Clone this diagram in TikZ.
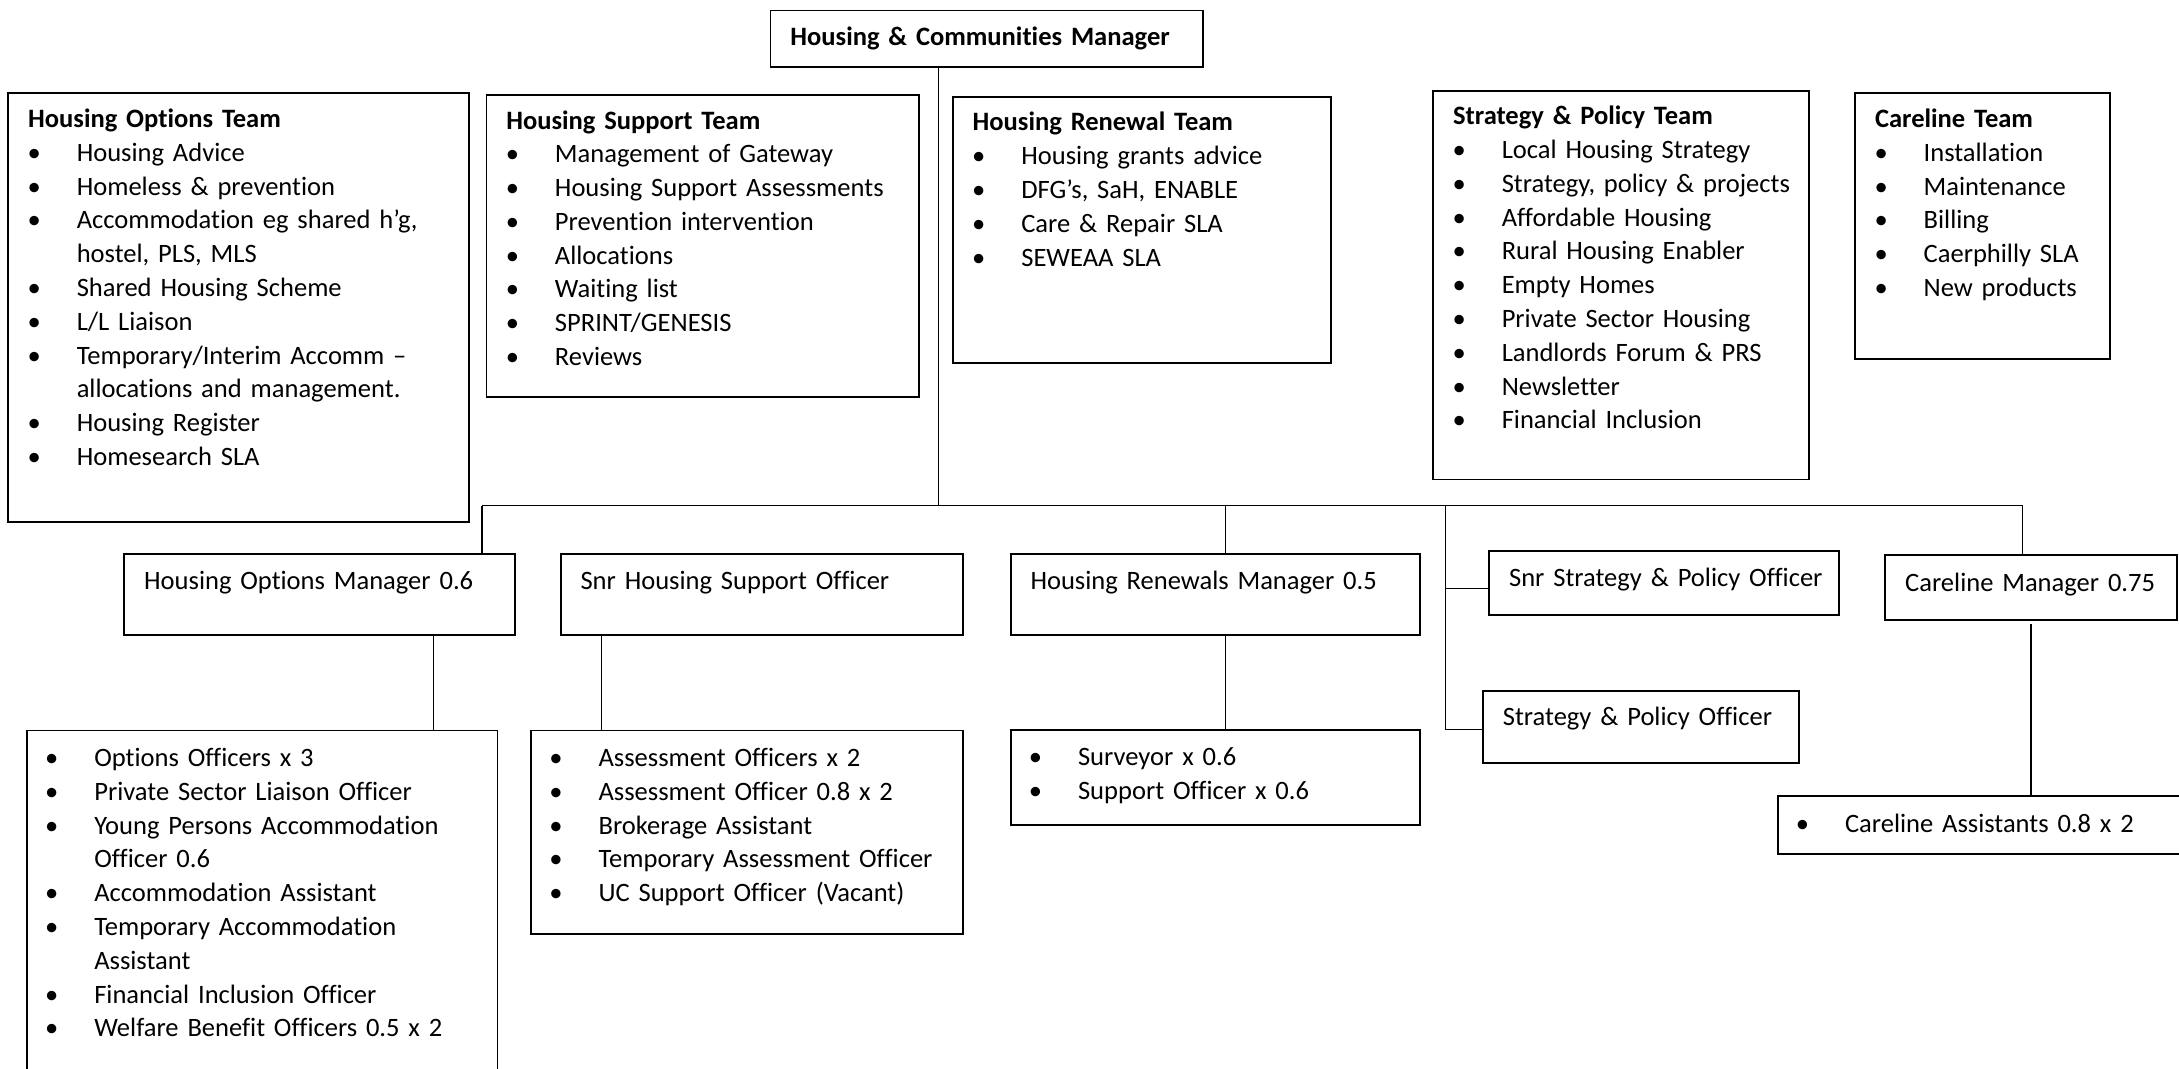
\documentclass[tikz,border=0pt]{standalone}
\usepackage{fontspec}
\setmainfont{Carlito}[Ligatures={NoCommon}]
\usetikzlibrary{calc}

\tikzset{every picture/.style={line width=0.9pt}}
\tikzset{
  orgbox/.style={draw, line width=1.3pt, anchor=north west, inner xsep=14.3pt, inner ysep=0pt, align=left, font=\fontsize{19.1}{24.3}\selectfont},
  listbox/.style={orgbox, inner xsep=13.5pt},
  boxsize/.style n args={3}{text width=#1, text height=#2, text depth=#3},
}
\newcommand{\itm}[1]{\makebox[35pt][l]{\makebox[8.8pt][c]{\textbullet}}\mbox{#1}}
\newcommand{\ind}[1]{\hspace*{35pt}\mbox{#1}}

\begin{document}
\begin{tikzpicture}[x=1pt,y=1pt,yscale=-1,xscale=1]
\useasboundingbox (0,0) rectangle (1568,769);
\clip (0,0) rectangle (1568,769);

% Text Node
\node [orgbox, boxsize={282.6pt}{25.3pt}{15.4pt}] (mgr) at (553.8,6.9) {\mbox{\textbf{Housing \& Communities Manager}}};

% Text Node
\node [orgbox, boxsize={303.1pt}{25pt}{283.5pt}] (optteam) at (5.3,66.2) {\textbf{Housing Options Team}\\
\itm{Housing Advice}\\
\itm{Homeless \& prevention}\\
\itm{Accommodation eg shared h’g,}\\
\ind{hostel, PLS, MLS}\\
\itm{Shared Housing Scheme}\\
\itm{L/L Liaison}\\
\itm{Temporary/Interim Accomm –}\\
\ind{allocations and management.}\\
\itm{Housing Register}\\
\itm{Homesearch SLA}};
% Text Node
\node [orgbox, boxsize={282.9pt}{24.6pt}{193pt}] (supteam) at (349.4,67.6) {\textbf{Housing Support Team}\\
\itm{Management of Gateway}\\
\itm{Housing Support Assessments}\\
\itm{Prevention intervention}\\
\itm{Allocations}\\
\itm{Waiting list}\\
\itm{SPRINT/GENESIS}\\
\itm{Reviews}};
% Text Node
\node [orgbox, boxsize={243.7pt}{24.5pt}{167.1pt}] (renteam) at (685,69.1) {\textbf{Housing Renewal Team}\\
\itm{Housing grants advice}\\
\itm{DFG’s, SaH, ENABLE}\\
\itm{Care \& Repair SLA}\\
\itm{SEWEAA SLA}};
% Text Node
\node [orgbox, boxsize={242pt}{24.5pt}{255.2pt}] (stratteam) at (1030.7,64.7) {\textbf{Strategy \& Policy Team}\\
\itm{Local Housing Strategy}\\
\itm{Strategy, policy \& projects}\\
\itm{Affordable Housing}\\
\itm{Rural Housing Enabler}\\
\itm{Empty Homes}\\
\itm{Private Sector Housing}\\
\itm{Landlords Forum \& PRS}\\
\itm{Newsletter}\\
\itm{Financial Inclusion}};
% Text Node
\node [orgbox, boxsize={154.5pt}{25pt}{166.5pt}] (careteam) at (1334.3,66.2) {\textbf{Careline Team}\\
\itm{Installation}\\
\itm{Maintenance}\\
\itm{Billing}\\
\itm{Caerphilly SLA}\\
\itm{New products}};

% Text Node
\node [orgbox, boxsize={252.6pt}{25.5pt}{32.3pt}] (optmgr) at (88.8,398.2) {\mbox{Housing Options Manager 0.6}};
% Text Node
\node [orgbox, boxsize={261.2pt}{25.5pt}{32.3pt}] (supmgr) at (402.8,398.2) {\mbox{Snr Housing Support Officer}};
% Text Node
\node [orgbox, boxsize={265.8pt}{25.6pt}{32.4pt}] (renmgr) at (726.6,398) {\mbox{Housing Renewals Manager 0.5}};
% Text Node
\node [orgbox, boxsize={223pt}{25.9pt}{20.1pt}] (sspo) at (1071,395.8) {\mbox{Snr Strategy \& Policy Officer}};
% Text Node
\node [orgbox, boxsize={198.9pt}{25.2pt}{26.6pt}] (spo) at (1066.5,496.5) {\mbox{Strategy \& Policy Officer}};
% Text Node
\node [orgbox, boxsize={181.4pt}{26pt}{20.5pt}] (caremgr) at (1356,399) {\mbox{Careline Manager 0.75}};

% Text Node
\node [listbox, boxsize={311.7pt}{26pt}{239pt}] (optlist) at (18.7,525) {\itm{Options Officers x 3}\\
\itm{Private Sector Liaison Officer}\\
\itm{Young Persons Accommodation}\\
\ind{Officer 0.6}\\
\itm{Accommodation Assistant}\\
\itm{Temporary Accommodation}\\
\ind{Assistant}\\
\itm{Financial Inclusion Officer}\\
\itm{Welfare Benefit Officers 0.5 x 2}};
% Text Node
\node [listbox, boxsize={284pt}{26pt}{120.7pt}] (suplist) at (381.6,525) {\itm{Assessment Officers x 2}\\
\itm{Assessment Officer 0.8 x 2}\\
\itm{Brokerage Assistant}\\
\itm{Temporary Assessment Officer}\\
\itm{UC Support Officer (Vacant)}};
% Text Node
\node [listbox, boxsize={267.4pt}{25.9pt}{42.5pt}] (renlist) at (726.6,524.6) {\itm{Surveyor x 0.6}\\
\itm{Support Officer x 0.6}};
% Text Node
\node [listbox, boxsize={274.5pt}{26.7pt}{15.3pt}] (carelist) at (1278.5,572) {\itm{Careline Assistants 0.8 x 2}};

\coordinate (top) at (675.4,363.8);
\coordinate (busL) at (346.8,363.8);
\coordinate (renjoin) at (882,363.8);
\coordinate (stratjoin) at (1040,363.8);
\coordinate (carejoin) at (1455.4,363.8);

%Straight Lines
\draw (mgr.south -| top) -- (top);
\draw (busL) -- (carejoin);
\draw (busL) -- (busL |- optmgr.north);
\draw (renjoin) -- (renjoin |- renmgr.north);
\draw (carejoin) -- (carejoin |- caremgr.north);
%Straight Lines
\draw (stratjoin) -- ($(stratjoin |- spo.west)+(0,2)$) -- ($(spo.west)+(0,2)$);
\draw ($(stratjoin |- sspo.west)+(0,4)$) -- ($(sspo.west)+(0,4)$);
%Straight Lines
\draw ($(optmgr.south west)+(223.2,0)$) -- ($(optlist.north west)+(293.3,0)$);
\draw ($(supmgr.south west)+(30.3,0)$) -- ($(suplist.north west)+(51.5,0)$);
\draw ($(renmgr.south west)+(155.4,0)$) -- ($(renlist.north west)+(155.4,0)$);
\draw ($(caremgr.south west)+(105.5,2.5)$) -- ($(carelist.north west)+(183,0)$);

\end{tikzpicture}
\end{document}
